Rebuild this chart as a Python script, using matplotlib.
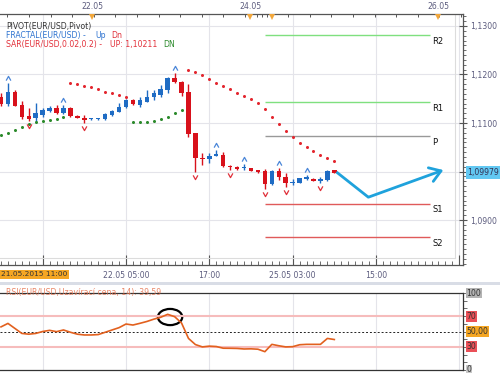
import numpy as np
import matplotlib.pyplot as plt
from matplotlib.patches import Ellipse, Rectangle
from matplotlib.path import Path

W, H = 500, 373

# hourly EUR/USD candles, slot 0 = 21.05.2015 11:00
opens = [1.11542, 1.11386, 1.11645, 1.11371, 1.11144, 1.11103, 1.11165, 1.11247, 1.11309, 1.11200,
         1.11315, 1.11144, 1.11109, 1.11076, 1.11076, 1.11082, 1.11165, 1.11233, 1.11336, 1.11474,
         1.11371, 1.11439, 1.11530, 1.11577, 1.11680, 1.11934, 1.11852, 1.11639, 1.10788, 1.10272,
         1.10252, 1.10326, 1.10340, 1.10113, 1.10099, 1.10072, 1.10066, 1.10031, 1.10016, 1.09736,
         1.10010, 1.09893, 1.09757, 1.09769, 1.09851, 1.09851, 1.09810, 1.09825, 1.10031]
highs = [1.11619, 1.11819, 1.11680, 1.11460, 1.11309, 1.11412, 1.11309, 1.11351, 1.11371, 1.11371,
         1.11330, 1.11155, 1.11165, 1.11103, 1.11113, 1.11196, 1.11268, 1.11412, 1.11495, 1.11495,
         1.11542, 1.11680, 1.11680, 1.11784, 1.11955, 1.12031, 1.11866, 1.11804, 1.10794, 1.10381,
         1.10375, 1.10433, 1.10408, 1.10124, 1.10113, 1.10155, 1.10072, 1.10041, 1.10052, 1.10031,
         1.10072, 1.09963, 1.09839, 1.09866, 1.09928, 1.09866, 1.09893, 1.10031, 1.10041]
lows = [1.11351, 1.11351, 1.11351, 1.11076, 1.11041, 1.11027, 1.11124, 1.11227, 1.11186, 1.11186,
        1.11124, 1.11103, 1.10994, 1.11062, 1.11072, 1.11072, 1.11144, 1.11227, 1.11309, 1.11371,
        1.11336, 1.11433, 1.11474, 1.11542, 1.11612, 1.11825, 1.11557, 1.10711, 1.09996, 1.10134,
        1.10169, 1.10320, 1.10087, 1.10025, 1.10041, 1.10031, 1.10010, 1.09979, 1.09639, 1.09722,
        1.09825, 1.09687, 1.09722, 1.09763, 1.09825, 1.09804, 1.09757, 1.09814, 1.09969]
closes = [1.11386, 1.11645, 1.11357, 1.11130, 1.11082, 1.11206, 1.11268, 1.11315, 1.11200, 1.11315,
          1.11144, 1.11109, 1.11062, 1.11093, 1.11097, 1.11186, 1.11254, 1.11336, 1.11474, 1.11386,
          1.11474, 1.11542, 1.11612, 1.11695, 1.11928, 1.11852, 1.11625, 1.10773, 1.10272, 1.10252,
          1.10320, 1.10355, 1.10120, 1.10087, 1.10052, 1.10087, 1.10016, 1.09990, 1.09736, 1.10010,
          1.09880, 1.09757, 1.09790, 1.09860, 1.09880, 1.09810, 1.09839, 1.10016, 1.09979]

# parabolic SAR (0.02, 0.2)
sar = [1.10753, 1.10800, 1.10856, 1.10911, 1.10973, 1.11014, 1.11047, 1.11056, 1.11089, 1.11130,
       1.11819, 1.11798, 1.11769, 1.11736, 1.11695, 1.11645, 1.11612, 1.11577, 1.11542,
       1.11014, 1.11014, 1.11027, 1.11047, 1.11082, 1.11130, 1.11200, 1.11268,
       1.12093, 1.12058, 1.11984, 1.11901, 1.11831, 1.11763, 1.11695, 1.11625, 1.11557, 1.11489,
       1.11406, 1.11282, 1.11130, 1.10973, 1.10841, 1.10718, 1.10594, 1.10511, 1.10423, 1.10340,
       1.10272, 1.10211]

# RSI(14)
rsi = [56, 60.5, 54, 47.5, 46.5, 47.5, 50, 51.5, 49.8, 52, 49, 46.5, 45.5, 45.5, 46, 49, 52, 55,
       59.7, 58.4, 60.6, 63, 66, 68.5, 72.3, 69.3, 61, 41, 33, 30, 31, 30.5, 28.3, 28.2, 28, 27.3,
       27.5, 27, 23.8, 33.3, 31.5, 30, 30.3, 32.8, 33.3, 33.3, 33.3, 41, 39.59]

frac_up = [1, 9, 25, 31, 35, 40, 44]
frac_dn = [4, 12, 28, 33, 38, 41, 46]

pivot_names = ['R2', 'R1', 'P', 'S1', 'S2']
pivot_vals = [1.1281, 1.1143, 1.1073, 1.0934, 1.0865]
pivot_colors = ['#7fe07f', '#7fe07f', '#999999', '#e05a5a', '#e05a5a']
pivot_from, pivot_to = 38, 61.8

forecast_t = [48.3, 52.9, 63.7]
forecast_p = [1.0999, 1.0947, 1.1003]
last_price = 1.09979

time_ticks = [6, 18, 30, 42, 54, 66]
time_labels = ['', '22.05 05:00', '17:00', '25.05 03:00', '15:00', '']
price_ticks = [1.09, 1.10, 1.11, 1.12, 1.13]
price_labels = ['1,0900', '', '1,1100', '1,1200', '1,1300']
top_labels = ['22.05', '24.05', '26.05']
top_label_x = [92, 250, 438]
top_flag_x = [92, 250, 272, 438]
rsi_levels = [100, 70, 50, 30, 0]
rsi_level_labels = ['100', '70', '50,00', '30', '0']
rsi_level_colors = ['#b4b4b4', '#ea5058', '#f5a623', '#ea5058', '#c8c8c8']

RED = '#d8111b'
BLUE = '#1f6cc4'
AXC = '#5c5c7e'
FS = 5.6


def box(x0, y0, x1, y1):
    return [x0 / W, 1 - y1 / H, (x1 - x0) / W, (y1 - y0) / H]


fig = plt.figure(figsize=(W / 100, H / 100), dpi=100)
fig.patch.set_facecolor('white')

t = np.arange(len(opens))
o, h, l, c = map(np.array, (opens, highs, lows, closes))
xmin, xmax = -0.144, 66.53

# ---- main price panel
ax = fig.add_axes(box(0, 14, 463, 265))
ax.set_xlim(xmin, xmax)
ax.set_ylim(1.080722, 1.132474)
ax.set_xticks(time_ticks)
ax.set_xticklabels(time_labels)
ax.set_xticks(np.arange(0, 67), minor=True)
ax.set_yticks(price_ticks)
ax.set_yticklabels(price_labels)
ax.set_yticks(np.arange(1.081, 1.1325, 0.001), minor=True)
ax.yaxis.tick_right()
ax.grid(True, color='#e4e4ea', lw=0.8)
ax.set_axisbelow(True)
for s in ['top', 'right', 'bottom']:
    ax.spines[s].set_color('#555555')
    ax.spines[s].set_linewidth(0.9)
ax.spines['left'].set_visible(False)
ax.tick_params(axis='y', which='major', direction='inout', length=6, width=0.8, color='#555555',
               labelsize=FS, labelcolor=AXC, pad=2)
ax.tick_params(axis='y', which='minor', direction='out', length=2.5, width=0.6, color='#555555')
ax.tick_params(axis='x', which='major', direction='in', length=7, width=0.8, color='#555555',
               labelsize=FS, labelcolor=AXC, pad=4)
ax.tick_params(axis='x', which='minor', direction='in', length=3, width=0.6, color='#555555')
ax.plot([0.983, 0.983], [0.028, 1], transform=ax.transAxes, color='#dcdcdc', lw=0.8)
ax.plot([0, 0.983], [0.028, 0.028], transform=ax.transAxes, color='#dcdcdc', lw=0.8)

up = c >= o
cols = np.where(up, BLUE, RED)
ax.vlines(t, l, h, colors=cols, lw=1, zorder=3)
bh = np.maximum(np.abs(c - o), 0.00022)
mid = (o + c) / 2
ax.bar(t, bh, bottom=mid - bh / 2, width=0.64, color=cols, lw=0, zorder=4)

sar_a = np.array(sar)
above = sar_a > c
ax.plot(t[above], sar_a[above], 'o', ms=2.2, mew=0, color='#e3262e', zorder=5)
ax.plot(t[~above], sar_a[~above], 'o', ms=2.2, mew=0, color='#2b8a2b', zorder=5)

px = (ax.get_ylim()[1] - ax.get_ylim()[0]) / 251
up_mark = Path([(-1, -0.9), (0, 0.9), (1, -0.9)])
dn_mark = Path([(-1, 0.9), (0, -0.9), (1, 0.9)])
ax.plot(t[frac_up], h[frac_up] + 5 * px, ls='none', marker=up_mark, ms=3.4, mfc='none',
        mec='#4a86d8', mew=0.9, zorder=6)
ax.plot(t[frac_dn], l[frac_dn] - 5 * px, ls='none', marker=dn_mark, ms=3.4, mfc='none',
        mec='#e0303a', mew=0.9, zorder=6)

ax.hlines(pivot_vals, pivot_from, pivot_to, colors=pivot_colors, lw=1, zorder=2)
for name, v in zip(pivot_names, pivot_vals):
    ax.annotate(name, xy=(pivot_to, v), xytext=(1.5, -4.5), textcoords='offset points',
                ha='left', va='center', fontsize=6, color='#111111')

ax.plot(forecast_t[:2], forecast_p[:2], color='#1fa2dc', lw=2, solid_capstyle='butt', zorder=7)
ax.annotate('', xy=(forecast_t[2], forecast_p[2]), xytext=(forecast_t[1], forecast_p[1]),
            arrowprops=dict(arrowstyle='->,head_length=0.6,head_width=0.4', color='#1fa2dc',
                            lw=2, shrinkA=0, shrinkB=0, mutation_scale=13), zorder=7)

ax.annotate('1,09979', xy=(1, last_price), xycoords=('axes fraction', 'data'), xytext=(3, 0),
            textcoords='offset points', ha='left', va='center', fontsize=FS, color='#333355',
            bbox=dict(boxstyle='square,pad=0.2', fc='#62c8f2', ec='none'), annotation_clip=False)

# ---- top navigator strip
axt = fig.add_axes(box(0, 0, 463, 20), zorder=5)
axt.set_xlim(0, 463)
axt.set_ylim(20, 0)
axt.axis('off')
tick_x = np.concatenate([np.arange(7.3, 463, 21.6), [256.7, 261.7]])
axt.vlines(tick_x, 14, 17.2, color='#555555', lw=0.7)
axt.plot(top_flag_x, [16.5] * len(top_flag_x), 'v', ms=4.5, color='#f2a73b', mew=0)
for s, x in zip(top_labels, top_label_x):
    axt.text(x, 6.5, s, ha='center', va='center', fontsize=FS, color=AXC)

# legend lines
def ftxt(x, y, s, color):
    fig.text(x / W, 1 - y / H, s, color=color, fontsize=FS, ha='left', va='center')


ftxt(6, 26.5, 'PIVOT(EUR/USD,Pivot)', '#333333')
ftxt(6, 35.5, 'FRACTAL(EUR/USD) -', '#2f74d0')
ftxt(95, 35.5, 'Up', '#2f74d0')
ftxt(111, 35.5, 'Dn', '#e0303a')
ftxt(6, 44.5, 'SAR(EUR/USD,0.02,0.2) -', '#e3303a')
ftxt(110, 44.5, 'UP: 1,10211', '#e3303a')
ftxt(163, 44.5, 'DN', '#2b8a2b')

fig.text(1 / W, 1 - 274.5 / H, '21.05.2015 11:00', fontsize=5.3, color='#333333', ha='left',
         va='center', bbox=dict(boxstyle='square,pad=0.25', fc='#f5a623', ec='none'))

fig.add_artist(Rectangle((0, 1 - 285 / H), 1, 3 / H, transform=fig.transFigure,
                         fc='#d9dde6', ec='none'))

# ---- RSI panel
ax2 = fig.add_axes(box(0, 293, 463, 370))
ax2.set_xlim(xmin, xmax)
ax2.set_ylim(0, 100)
ax2.set_xticks(time_ticks)
ax2.set_xticklabels([])
ax2.tick_params(axis='x', length=0)
ax2.grid(axis='x', color='#e4e4ea', lw=0.8)
ax2.yaxis.tick_right()
ax2.set_yticks(np.arange(0, 101, 10))
ax2.set_yticklabels([])
ax2.tick_params(axis='y', direction='out', length=3, width=0.6, color='#555555')
for s in ['top', 'bottom', 'right']:
    ax2.spines[s].set_color('#333333')
    ax2.spines[s].set_linewidth(0.9)
ax2.spines['left'].set_visible(False)
ax2.axhline(70, color='#f6bcbc', lw=1.5)
ax2.axhline(30, color='#f6bcbc', lw=1.5)
ax2.axhline(50, color='#222222', lw=0.7, ls=(0, (2, 2)))
ax2.plot(t, rsi, color='#e2601e', lw=1.2)
pk = int(np.argmax(rsi))
ax2.add_patch(Ellipse((t[pk] + 0.35, rsi[pk] - 3.5), 3.5, 21, fill=False, ec='black', lw=1.6,
                      clip_on=False))
ax2.text(0.013, 1.0, 'RSI(EUR/USD,Uzavírací cena, 14): ' + f'{rsi[-1]:.2f}'.replace('.', ','),
         transform=ax2.transAxes, ha='left', va='center', fontsize=FS, color='#e4704c', alpha=0.85)
for lv, lab, col in zip(rsi_levels, rsi_level_labels, rsi_level_colors):
    ax2.annotate(lab, xy=(1, lv), xycoords=('axes fraction', 'data'), xytext=(2.5, 0),
                 textcoords='offset points', ha='left', va='center', fontsize=FS, color='#333333',
                 bbox=dict(boxstyle='square,pad=0.12', fc=col, ec='none'), annotation_clip=False)

fig.savefig('out.png', dpi=100)
